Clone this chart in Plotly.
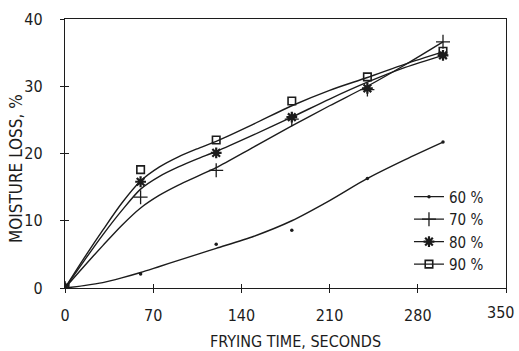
import plotly.graph_objects as go

# Measured moisture loss (%) at each frying time (s)
frying_time = [0, 60, 120, 180, 240, 300]
loss_60 = [0, 2.1, 6.5, 8.6, 16.3, 21.7]
loss_70 = [0, 13.5, 17.5, 25.1, 29.5, 36.6]
loss_80 = [0, 15.8, 20.1, 25.4, 29.7, 34.6]
loss_90 = [0, 17.6, 22.0, 27.8, 31.4, 35.2]

# Smoothed fit curves through the measurements
fit_time = [0, 15, 30, 45, 60, 75, 90, 105, 120, 150, 180, 210, 240, 270, 300]
fit_60 = [0, 0.35, 0.8, 1.5, 2.3, 3.2, 4.1, 5.0, 5.9, 7.7, 10.0, 13.0, 16.3, 19.1, 21.7]
fit_70 = [0, 3.2, 6.3, 9.3, 11.9, 13.8, 15.3, 16.6, 17.9, 21.0, 24.1, 27.1, 30.0, 33.2, 36.6]
fit_80 = [0, 4.0, 7.9, 11.5, 14.7, 16.6, 18.0, 19.2, 20.3, 22.8, 25.4, 28.1, 30.6, 32.8, 34.6]
fit_90 = [0, 4.4, 8.6, 12.6, 15.9, 18.0, 19.5, 20.7, 21.8, 24.4, 27.1, 29.4, 31.3, 33.3, 35.1]

series_names = ["60 %", "70 %", "80 %", "90 %"]
x_ticks = [0, 70, 140, 210, 280, 350]
x_tick_text = ["0", "70", "140", "210", "280", ""]
last_x_label = "350"
y_ticks = [0, 10, 20, 30, 40]

INK = "#1c1c1c"
FONT = "Liberation Sans Narrow, DejaVu Sans Condensed, Liberation Sans, sans-serif"

markers = [
    dict(symbol="circle", size=3.5, color=INK, line=dict(width=0)),
    dict(symbol="cross-thin-open", size=10, color=INK, line=dict(color=INK, width=1.3)),
    dict(symbol="asterisk-open", size=9, color=INK, line=dict(color=INK, width=2.2)),
    dict(symbol="square-open", size=7.5, color=INK, line=dict(color=INK, width=1.6)),
]
measured = [loss_60, loss_70, loss_80, loss_90]
fitted = [fit_60, fit_70, fit_80, fit_90]

fig = go.Figure()
for name, mk, ys, fy in zip(series_names, markers, measured, fitted):
    fig.add_trace(go.Scatter(
        x=fit_time, y=fy, mode="lines",
        line=dict(color=INK, width=1.4, shape="spline", smoothing=0.8),
        showlegend=False, hoverinfo="skip"))
    fig.add_trace(go.Scatter(
        x=frying_time, y=ys, mode="markers", marker=mk, showlegend=False, name=name))
    # legend key: short line with the series marker
    fig.add_trace(go.Scatter(
        x=[None], y=[None], mode="lines+markers", name=name,
        line=dict(color=INK, width=1.4), marker=mk))

axis_common = dict(
    showgrid=False, zeroline=False, linecolor=INK, linewidth=1.4,
    tickcolor=INK, tickwidth=1.3, ticklen=4, automargin=False,
    tickfont=dict(family=FONT, size=16, color=INK),
)

fig.update_layout(
    width=519, height=351,
    margin=dict(l=65, r=13, t=19, b=63),
    paper_bgcolor="white", plot_bgcolor="white",
    font=dict(family=FONT, color=INK),
    xaxis=dict(range=[0, 350], tickvals=x_ticks, ticktext=x_tick_text, ticks="outside",
               mirror=True, ticklabelstandoff=9, **axis_common),
    yaxis=dict(range=[0, 40], tickvals=y_ticks, ticks="outside", mirror=True,
               ticklabelstandoff=14, **axis_common),
    # second pair of axes draws the inner half of each crossing tick
    xaxis2=dict(range=[0, 350], tickvals=x_ticks, ticks="inside", overlaying="x",
                anchor="y", side="bottom", showticklabels=False, showline=False,
                showgrid=False, zeroline=False, tickcolor=INK, tickwidth=1.3, ticklen=4),
    yaxis2=dict(range=[0, 40], tickvals=y_ticks, ticks="inside", overlaying="y",
                anchor="x", side="left", showticklabels=False, showline=False,
                showgrid=False, zeroline=False, tickcolor=INK, tickwidth=1.3, ticklen=4),
    legend=dict(x=0.78, y=0.40, xanchor="left", yanchor="top",
                bgcolor="rgba(0,0,0,0)", font=dict(family=FONT, size=15, color=INK),
                itemwidth=30, tracegroupgap=0),
    annotations=[
        # the end label sits just inside the right edge
        dict(text=last_x_label, xref="paper", yref="paper",
             x=(500 - 65) / 441, y=-(312 - 288) / 269, xanchor="center", yanchor="middle",
             showarrow=False, font=dict(family=FONT, size=16, color=INK)),
        dict(text="FRYING TIME, SECONDS", xref="paper", yref="paper",
             x=(295 - 65) / 441, y=-(341 - 288) / 269, xanchor="center", yanchor="middle",
             showarrow=False, font=dict(family=FONT, size=16, color=INK)),
        dict(text="MOISTURE LOSS, %", xref="paper", yref="paper",
             x=-(65 - 16) / 441, y=(288 - 169) / 269, xanchor="center", yanchor="middle",
             textangle=-90, showarrow=False, font=dict(family=FONT, size=17, color=INK)),
    ],
)

# attach an invisible trace to the overlay axes so their ticks are drawn
fig.add_trace(go.Scatter(x=[None], y=[None], xaxis="x2", yaxis="y2",
                         showlegend=False, hoverinfo="skip"))

fig.write_html("out.html")
